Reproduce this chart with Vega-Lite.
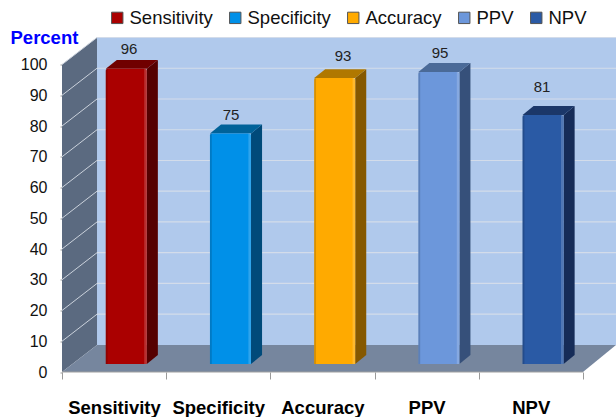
{
"$schema":"https://vega.github.io/schema/vega-lite/v6.json",
"width":554,"height":334.5,
"autosize":"none",
"padding":{"left":62,"top":37.5,"right":0,"bottom":45},
"background":"white",
"config":{"view":{"stroke":null},"font":"Liberation Sans"},
"datasets":{
"bars":[
{"metric":"Sensitivity","idx":0,"value":96,"labelX":0.643,"labelY":105.2},
{"metric":"Specificity","idx":1,"value":75,"labelX":1.622,"labelY":83.7},
{"metric":"Accuracy","idx":2,"value":93,"labelX":2.697,"labelY":102.9},
{"metric":"PPV","idx":3,"value":95,"labelX":3.628,"labelY":103.9},
{"metric":"NPV","idx":4,"value":81,"labelX":4.607,"labelY":92.8}
],
"ticks":[{"v":0},{"v":10},{"v":20},{"v":30},{"v":40},{"v":50},{"v":60},{"v":70},{"v":80},{"v":90},{"v":100}]
},
"data":{"name":"bars"},
"transform":[
{"calculate":"datum.idx+0.42","as":"x0"},
{"calculate":"datum.x0+0.394","as":"x1"},
{"calculate":"datum.value+2.6","as":"top"}
],
"layer":[
{"mark":{"type":"rect","fill":"#B0C9EC"},
 "encoding":{
  "x":{"datum":0.336,"type":"quantitative","scale":{"domain":[0,5.317],"nice":false,"zero":false},
    "axis":{"title":null,"tickCount":5,"grid":false,"domain":false,"tickColor":"#9a9a9a","tickSize":7,"labelOffset":52,"labelFont":"Liberation Sans","labelFontWeight":"bold","labelFontSize":18.5,"labelColor":"#000000","labelPadding":19,"labelOverlap":false,"labelFlush":false,"labelBound":false,
      "labelExpr":"['Sensitivity','Specificity','Accuracy','PPV','NPV',''][datum.value]"}},
  "x2":{"datum":5.317},
  "y":{"datum":8.8,"type":"quantitative","scale":{"domain":[0,108.8],"nice":false,"zero":false},
    "axis":{"title":"Percent","titleAngle":0,"titleX":-52,"titleY":0,"titleAlign":"left","titleBaseline":"middle","titleColor":"#0000FF","titleFontSize":18.5,"titleFontWeight":"bold","tickCount":11,"grid":false,"domain":false,"tickColor":"#9a9a9a","tickSize":2,"labelFontSize":16,"labelColor":"#111111","labelPadding":13,"labelOverlap":false,"labelBound":false}},
  "y2":{"datum":108.8}}},
{"data":{"values":[{"x":0,"lo":0,"hi":100},{"x":0.336,"lo":8.8,"hi":108.8}]},
 "mark":{"type":"area","fill":"#5B6A80"},
 "encoding":{"x":{"field":"x","type":"quantitative"},"y":{"field":"lo","type":"quantitative","stack":null},"y2":{"field":"hi"}}},
{"data":{"values":[{"x":0,"lo":0,"hi":0},{"x":0.336,"lo":0,"hi":8.8},{"x":5,"lo":0,"hi":8.8},{"x":5.317,"lo":8.8,"hi":8.8}]},
 "mark":{"type":"area","fill":"#76869E"},
 "encoding":{"x":{"field":"x","type":"quantitative"},"y":{"field":"lo","type":"quantitative","stack":null},"y2":{"field":"hi"}}},
{"data":{"name":"ticks"},
 "transform":[{"filter":"datum.v>0"},{"calculate":"datum.v+8.8","as":"yb"}],
 "mark":{"type":"rule","stroke":"#D3DCEA","strokeWidth":1.2},
 "encoding":{"x":{"datum":0.336,"type":"quantitative"},"x2":{"datum":5.317},"y":{"field":"yb","type":"quantitative"}}},
{"data":{"name":"ticks"},
 "transform":[{"filter":"datum.v>0"},{"calculate":"[0,1]","as":"t"},{"flatten":["t"]},{"calculate":"datum.t*0.336","as":"xs"},{"calculate":"datum.v+8.8*datum.t","as":"ys"}],
 "mark":{"type":"line","stroke":"#CBD2DC","strokeWidth":1},
 "encoding":{"x":{"field":"xs","type":"quantitative"},"y":{"field":"ys","type":"quantitative"},"detail":{"field":"v"}}},
{"data":{"values":[{"x":0,"y":0},{"x":5,"y":0}]},
 "mark":{"type":"line","stroke":"#A0A0A0","strokeWidth":1},
 "encoding":{"x":{"field":"x","type":"quantitative"},"y":{"field":"y","type":"quantitative"}}},
{"transform":[{"calculate":"[0,1]","as":"t"},{"flatten":["t"]},{"calculate":"datum.x1+0.106*datum.t","as":"xs"},{"calculate":"2.6+2.9*datum.t","as":"lo"},{"calculate":"datum.top+2.9*datum.t","as":"hi"}],
 "mark":{"type":"area"},
 "encoding":{"x":{"field":"xs","type":"quantitative"},"y":{"field":"lo","type":"quantitative","stack":null},"y2":{"field":"hi"},
  "color":{"field":"metric","type":"nominal","legend":null,"scale":{"domain":["Sensitivity","Specificity","Accuracy","PPV","NPV"],"range":["#550000","#004A7A","#855800","#36507A","#162C58"]}}}},
{"transform":[{"calculate":"[0,0.106,0.394,0.5]","as":"t"},{"flatten":["t"]},{"calculate":"datum.x0+datum.t","as":"xs"},{"calculate":"datum.top+2.9*max(0,(datum.t-0.394)/0.106)","as":"lo"},{"calculate":"datum.top+2.9*min(1,datum.t/0.106)","as":"hi"}],
 "mark":{"type":"area"},
 "encoding":{"x":{"field":"xs","type":"quantitative"},"y":{"field":"lo","type":"quantitative","stack":null},"y2":{"field":"hi"},
  "color":{"field":"metric","type":"nominal","legend":null,"scale":{"domain":["Sensitivity","Specificity","Accuracy","PPV","NPV"],"range":["#700000","#006299","#B07800","#4A6A98","#1B3769"]}}}},
{"transform":[{"calculate":"2.6","as":"base"}],
 "mark":{"type":"rect","cornerRadiusTopLeft":2,"cornerRadiusTopRight":2},
 "encoding":{"x":{"field":"x0","type":"quantitative"},"x2":{"field":"x1"},"y":{"field":"base","type":"quantitative"},"y2":{"field":"top"},
  "color":{"field":"metric","type":"nominal","sort":null,
   "scale":{"domain":["Sensitivity","Specificity","Accuracy","PPV","NPV"],"range":["#AA0000","#0090E8","#FFAA00","#6C97DB","#2A5AA5"]},
   "legend":{"title":null,"orient":"none","direction":"horizontal","legendX":46,"legendY":-29,"symbolType":"square","symbolSize":130,"symbolStrokeWidth":1,"symbolStrokeColor":"#555555","labelFontSize":18.5,"labelColor":"#111111","labelFont":"Liberation Sans","columnPadding":13,"labelOffset":3,"padding":0,"symbolOpacity":1,"columns":5}}}},
{"transform":[{"calculate":"datum.x1-0.025","as":"hx"},{"calculate":"2.6","as":"base"}],
 "mark":{"type":"rect","fill":"#FFFFFF","opacity":0.18},
 "encoding":{"x":{"field":"hx","type":"quantitative"},"x2":{"field":"x1"},"y":{"field":"base","type":"quantitative"},"y2":{"field":"top"}}},
{"transform":[{"calculate":"datum.x0+0.018","as":"hx"},{"calculate":"2.6","as":"base"}],
 "mark":{"type":"rect","fill":"#000000","opacity":0.15},
 "encoding":{"x":{"field":"x0","type":"quantitative"},"x2":{"field":"hx"},"y":{"field":"base","type":"quantitative"},"y2":{"field":"top"}}},
{"mark":{"type":"text","font":"Liberation Sans","fontSize":15,"color":"#222222","baseline":"middle","align":"center"},
 "encoding":{"x":{"field":"labelX","type":"quantitative"},"y":{"field":"labelY","type":"quantitative"},"text":{"field":"value","type":"quantitative"}}}
],
"resolve":{"scale":{"color":"independent"}}
}
